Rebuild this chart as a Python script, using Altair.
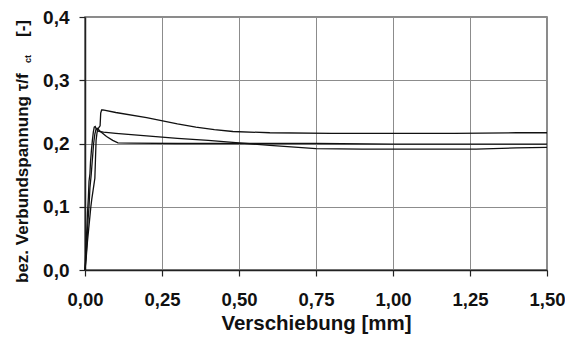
import altair as alt
import pandas as pd

# Curve A (highest post-peak, late riser)
a_x = [0, 0.004, 0.008, 0.012, 0.015, 0.019, 0.022, 0.026, 0.029, 0.032, 0.034, 0.036, 0.039, 0.042, 0.046, 0.049, 0.051, 0.054, 0.058, 0.1, 0.2, 0.3, 0.36, 0.42, 0.48, 0.6, 0.8, 1.0, 1.2, 1.4, 1.5]
a_y = [0, 0.02, 0.045, 0.065, 0.08, 0.1, 0.112, 0.125, 0.135, 0.145, 0.175, 0.205, 0.217, 0.223, 0.226, 0.228, 0.248, 0.253, 0.253, 0.249, 0.241, 0.231, 0.226, 0.222, 0.219, 0.217, 0.216, 0.216, 0.216, 0.217, 0.217]

# Curve B (middle, slowly declining)
b_x = [0, 0.003, 0.006, 0.008, 0.011, 0.013, 0.016, 0.018, 0.021, 0.024, 0.027, 0.03, 0.033, 0.036, 0.04, 0.045, 0.06, 0.1, 0.2, 0.3, 0.4, 0.5, 0.6, 0.75, 0.9, 1.0, 1.15, 1.27, 1.4, 1.5]
b_y = [0, 0.035, 0.065, 0.09, 0.115, 0.14, 0.152, 0.172, 0.19, 0.205, 0.218, 0.226, 0.227, 0.224, 0.221, 0.219, 0.218, 0.216, 0.212, 0.208, 0.205, 0.201, 0.197, 0.192, 0.191, 0.191, 0.191, 0.191, 0.193, 0.194]

# Curve C (drops quickly to ~0.20)
c_x = [0, 0.004, 0.007, 0.01, 0.013, 0.016, 0.02, 0.024, 0.028, 0.032, 0.036, 0.04, 0.05, 0.07, 0.09, 0.107, 0.15, 0.3, 0.5, 0.75, 1.0, 1.25, 1.5]
c_y = [0, 0.025, 0.05, 0.08, 0.1, 0.13, 0.15, 0.175, 0.2, 0.215, 0.223, 0.224, 0.219, 0.211, 0.205, 0.201, 0.2005, 0.2, 0.2, 0.2, 0.199, 0.199, 0.199]

x_ticks = [0, 0.25, 0.5, 0.75, 1.0, 1.25, 1.5]
y_ticks = [0, 0.1, 0.2, 0.3, 0.4]

rows = []
for name, xs, ys in [("A", a_x, a_y), ("B", b_x, b_y), ("C", c_x, c_y)]:
    for i, (xv, yv) in enumerate(zip(xs, ys)):
        rows.append({"s": name, "i": i, "x": xv, "y": yv})
df = pd.DataFrame(rows)

FONT = "Liberation Sans"

lines = alt.Chart(df).mark_line(color="#111111", strokeWidth=1.3).encode(
    x=alt.X("x:Q", scale=alt.Scale(domain=[0, 1.5], nice=False),
            axis=alt.Axis(values=x_ticks, title="Verschiebung [mm]",
                          labelExpr="replace(format(datum.value, '.2f'), '.', ',')")),
    y=alt.Y("y:Q", scale=alt.Scale(domain=[0, 0.4], nice=False),
            axis=alt.Axis(values=y_ticks, title=None,
                          labelExpr="replace(format(datum.value, '.1f'), '.', ',')")),
    detail="s:N",
    order="i:Q",
)

t_main = alt.Chart(pd.DataFrame({"t": ["bez. Verbundspannung \u03c4/f"]})).mark_text(
    angle=270, align="left", baseline="middle", font=FONT, fontWeight="bold", fontSize=17, color="#111"
).encode(text="t:N", x=alt.value(-62), y=alt.value(266))

t_sub = alt.Chart(pd.DataFrame({"t": ["ct"]})).mark_text(
    angle=270, align="left", baseline="middle", font=FONT, fontWeight="bold", fontSize=9, color="#111"
).encode(text="t:N", x=alt.value(-57), y=alt.value(46))

t_unit = alt.Chart(pd.DataFrame({"t": ["[-]"]})).mark_text(
    angle=270, align="right", baseline="middle", font=FONT, fontWeight="bold", fontSize=17, color="#111"
).encode(text="t:N", x=alt.value(-62), y=alt.value(3))

chart = alt.layer(lines, t_main, t_sub, t_unit).properties(
    width=462, height=253,
    autosize=alt.AutoSizeParams(type="none"),
    padding={"left": 77, "top": 9, "right": 18, "bottom": 69},
    background="white",
).configure_view(
    stroke="#666666", strokeWidth=1.5
).configure_axis(
    labelFont=FONT, labelFontWeight="bold", labelColor="#111",
    titleFont=FONT, titleFontWeight="bold", titleColor="#111",
    gridColor="#8c8c8c", gridWidth=1, gridOpacity=1,
    domainColor="#222222", domainWidth=1.5,
    tickColor="#222222", tickSize=6, tickWidth=1.2,
    labelFlush=False, labelOverlap=False,
).configure_axisX(
    labelFontSize=18.5, titleFontSize=20.5, labelPadding=14, titlePadding=5
).configure_axisY(
    labelFontSize=19, labelPadding=10
)

chart.save("out.html", embed_options={"renderer": "svg", "actions": False})
